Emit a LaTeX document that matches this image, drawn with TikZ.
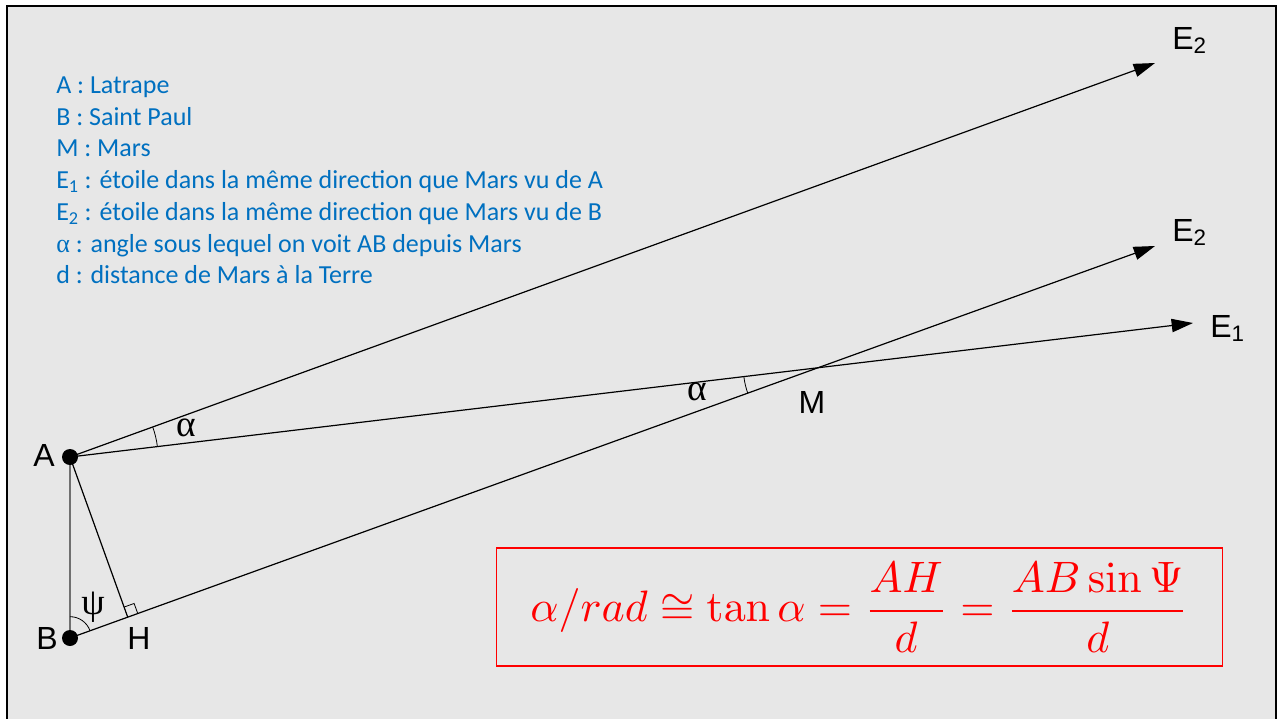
\documentclass[tikz,border=0pt]{standalone}
\usepackage[no-math]{fontspec}
\usepackage{graphicx}
\setmainfont{Liberation Sans}
\newfontfamily\legendfont{Carlito}
\newfontfamily\greekfont{Liberation Serif}
\usetikzlibrary{arrows.meta,angles}
\definecolor{bggray}{HTML}{E7E7E7}
\definecolor{legblue}{HTML}{0070C0}
\definecolor{fred}{HTML}{FF0000}
\definecolor{abgray}{HTML}{707070}
\tikzset{
  ray/.style={line width=0.9pt, draw=black},
  arrowray/.style={ray, -{Triangle[length=16pt,width=10pt]}},
  dotnode/.style={circle, fill=black, inner sep=0pt, minimum size=12pt},
  ptlabel/.style={font=\fontsize{24}{28}\selectfont, inner sep=0pt, anchor=base},
  elabel/.style={font=\fontsize{24}{28}\selectfont, inner sep=0pt, anchor=base west},
  anglabel/.style={font=\greekfont\fontsize{28}{30}\selectfont, inner sep=0pt},
  legline/.style={font=\legendfont\fontsize{19.5}{23}\selectfont, text=legblue, inner sep=0pt, anchor=base west},
  anglearc/.style={draw, line width=0.6pt}
}
\begin{document}
\begin{tikzpicture}[x=0.75pt,y=-0.75pt]
\useasboundingbox (0,0) rectangle (1277,718);
\clip (0,0) rectangle (1277,718);
\draw[fill=bggray, line width=2pt] (7,6) rectangle (1276,730);

% points
\coordinate (A) at (70,457);
\coordinate (B) at (70,638);
\coordinate (E2u) at (1155,63);
\coordinate (E2l) at (1155,246);
\coordinate (E1) at (1193,323);
\coordinate (M) at (818,367.8);
\coordinate (H) at (127.7,617.1);

% lines
\draw[line width=1pt, draw=abgray] (A) -- (B);
\draw[ray] (A) -- (H);
\draw[arrowray] (A) -- (E2u);
\draw[arrowray] (A) -- (E1);
\draw[arrowray] (B) -- (E2l);

% angle marks
\pic[anglearc, angle radius=66pt] {angle = E1--A--E2u};
\pic[anglearc, angle radius=56pt] {angle = A--M--B};
\pic[anglearc, angle radius=16pt] {angle = H--B--A};
\pic[anglearc, angle radius=8pt] {right angle = A--H--E2l};

% dots
\node[dotnode] (Adot) at (A) {};
\node[dotnode] (Bdot) at (B) {};

% point labels
\node[ptlabel] (Alab) at (44,466) {A};
\node[ptlabel] (Blab) at (47,649) {B};
\node[ptlabel] (Hlab) at (139,649) {H};
\node[ptlabel] (Mlab) at (812,413) {M};
\node[elabel] (E2ulab) at (1172,49) {E\textsubscript{2}};
\node[elabel] (E2llab) at (1172,241) {E\textsubscript{2}};
\node[elabel] (E1lab) at (1210,337) {E\textsubscript{1}};

% angle labels
\node[anglabel] (alphaA) at (186,428) {α};
\node[anglabel] (alphaM) at (697,392) {α};
\node[anglabel] (psiB) at (93,607) {ψ};

% legend
\node[legline] (l1) at (56,93) {A : Latrape};
\node[legline] (l2) at (56,125) {B : Saint Paul};
\node[legline] (l3) at (56,156) {M : Mars};
\node[legline] (l4) at (56,188) {E\textsubscript{1} : étoile dans la même direction que Mars vu de A};
\node[legline] (l5) at (56,220) {E\textsubscript{2} : étoile dans la même direction que Mars vu de B};
\node[legline] (l6) at (56,252) {{\greekfont α} : angle sous lequel on voit AB depuis Mars};
\node[legline] (l7) at (56,283) {d : distance de Mars à la Terre};

% formula
\node[draw=fred, text=fred, line width=0.9pt, minimum width=544pt, minimum height=88.5pt, inner sep=0pt] (formula) at (859.5,607) {\raisebox{-1pt}{\scalebox{3.3}{$\displaystyle \alpha/rad \cong \tan\alpha = \frac{AH}{d} = \frac{AB\sin\Psi}{d}$}}};
\end{tikzpicture}
\end{document}
